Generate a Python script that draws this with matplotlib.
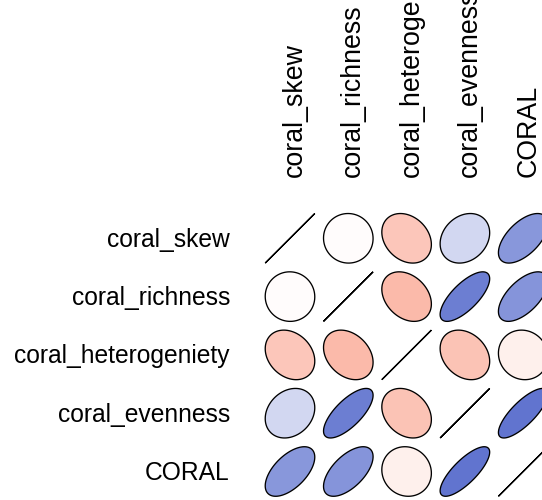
import numpy as np
import matplotlib
matplotlib.use("Agg")
import matplotlib.pyplot as plt
from matplotlib.colors import LinearSegmentedColormap
from matplotlib.patches import Polygon

variables = ["coral_skew", "coral_richness", "coral_heterogeniety",
             "coral_evenness", "CORAL"]

# correlation matrix, one row per variable
r_skew = [1.00, -0.01, -0.25, 0.22, 0.58]
r_richness = [-0.01, 1.00, -0.30, 0.72, 0.60]
r_heterogeniety = [-0.25, -0.30, 1.00, -0.26, -0.07]
r_evenness = [0.22, 0.72, -0.26, 1.00, 0.78]
r_coral = [0.58, 0.60, -0.07, 0.78, 1.00]
corr = np.array([r_skew, r_richness, r_heterogeniety, r_evenness, r_coral])

plt.rcParams["font.family"] = ["Liberation Sans", "DejaVu Sans"]

cmap = LinearSegmentedColormap.from_list(
    "corr",
    [(0.0, "#B40426"), (0.25, "#F88C73"), (0.5, "#FFFFFF"), (1.0, "#344DC1")],
)

W, H = 542, 500
fig = plt.figure(figsize=(W / 100, H / 100), dpi=100)

cell = 58.3
x0 = 290.0 - cell / 2
y0 = 238.3 - cell / 2
n = len(variables)
ax = fig.add_axes([x0 / W, 1 - (y0 + n * cell) / H, n * cell / W, n * cell / H])
ax.set_xlim(0.5, n + 0.5)
ax.set_ylim(n + 0.5, 0.5)
ax.axis("off")


def ellipse_points(rho, length=99):
    k = np.linspace(0, 2 * np.pi, length)
    a = np.arccos(np.clip(rho, -1, 1))
    x = np.cos(k + a / 2) / 2
    y = np.cos(k - a / 2) / 2
    return 0.85 * x, 0.85 * y


for i in range(n):
    for j in range(n):
        rho = corr[i, j]
        ex, ey = ellipse_points(rho)
        cx, cy = j + 1, i + 1
        pts = np.column_stack([cx + ex, cy - ey])
        face = cmap((rho + 1) / 2)
        ax.add_patch(Polygon(pts, closed=True, facecolor=face,
                             edgecolor="black", linewidth=0.95,
                             clip_on=False))

row_fs = 17.7
col_fs = 19.3
for i, name in enumerate(variables):
    # row labels, right-aligned to the left of the grid
    fig.text(230 / W, 1 - (238.3 + i * cell + 8.5) / H, name, ha="right",
             va="baseline", fontsize=row_fs, color="black")
    # column labels, rotated and reading upwards from above the grid
    fig.text((290 + i * cell + 12) / W, 1 - 177 / H, name, ha="left",
             va="baseline", rotation=90, rotation_mode="anchor",
             fontsize=col_fs, color="black")

fig.savefig("out.png", dpi=100, facecolor="white")
